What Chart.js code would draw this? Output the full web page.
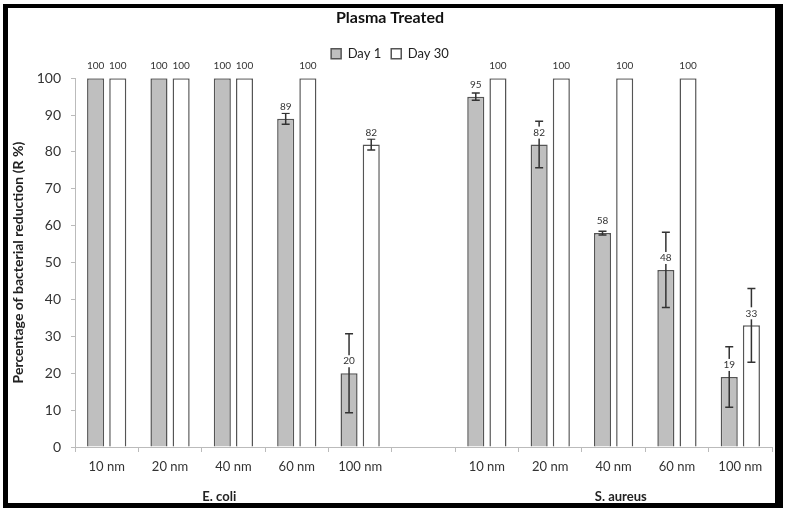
<!DOCTYPE html>
<html>
<head>
<meta charset="utf-8">
<script src="https://cdn.jsdelivr.net/npm/chart.js@4.4.0/dist/chart.umd.min.js"></script>
<style>
  html, body { margin: 0; padding: 0; background: #fff; }
  #wrap { width: 791px; height: 516px; position: relative; }
</style>
</head>
<body>
<div id="wrap"><canvas id="chart" width="791" height="516"></canvas></div>
<script>
// Chart data
const sizes = ['10 nm', '20 nm', '40 nm', '60 nm', '100 nm', '', '10 nm', '20 nm', '40 nm', '60 nm', '100 nm'];
const groups = ['E. coli', 'S. aureus'];
const day1 = [100, 100, 100, 89, 20, null, 95, 82, 58, 48, 19];
const day30 = [100, 100, 100, 100, 82, null, 100, 100, 100, 100, 33];
const day1Err = [0, 0, 0, 1.5, 10.7, null, 1, 6.3, 0.5, 10.2, 8.2];
const day30Err = [0, 0, 0, 0, 1.5, null, 0, 0, 0, 0, 10];
const yTicks = [0, 10, 20, 30, 40, 50, 60, 70, 80, 90, 100];

const FONT = 'Lato, "Open Sans", sans-serif';

// frame around the whole picture
const framePlugin = {
    id: 'frame',
    afterInit(chart) {
        // leave some room between legend and plot
        const lg = chart.legend;
        const fit = lg.fit;
        lg.fit = function () { fit.call(this); this.height += 8; };
    },
    beforeDraw(chart) {
        const c = chart.ctx;
        c.save();
        c.fillStyle = '#fff';
        c.fillRect(0, 0, chart.width, chart.height);
        c.fillStyle = '#000';
        c.fillRect(3, 4, 780, 4);     // top
        c.fillRect(3, 4, 5, 504);     // left
        c.fillRect(775, 4, 8, 504);   // right
        c.fillRect(3, 503, 780, 5);   // bottom
        c.restore();
    }
};

// error bars + value labels above bars
const errorLabelPlugin = {
    id: 'errorLabels',
    afterDatasetsDraw(chart) {
        const c = chart.ctx;
        const y = chart.scales.y;
        const errs = [day1Err, day30Err];
        c.save();
        chart.data.datasets.forEach((ds, di) => {
            const meta = chart.getDatasetMeta(di);
            meta.data.forEach((bar, i) => {
                const v = ds.data[i];
                if (v === null) return;
                const e = errs[di][i];
                if (e) {
                    const top = y.getPixelForValue(v + e);
                    const bot = y.getPixelForValue(v - e);
                    c.strokeStyle = '#333';
                    c.lineWidth = 1.5;
                    c.beginPath();
                    c.moveTo(bar.x, top); c.lineTo(bar.x, bot);
                    c.moveTo(bar.x - 4, top); c.lineTo(bar.x + 4, top);
                    c.moveTo(bar.x - 4, bot); c.lineTo(bar.x + 4, bot);
                    c.stroke();
                }
                const ly = bar.y - 12;
                c.font = '10px ' + FONT;
                const txt = String(Math.round(v));
                const w = c.measureText(txt).width;
                if (e) {
                    c.fillStyle = '#fff';
                    c.fillRect(bar.x - w / 2 - 1, ly - 6, w + 2, 12);
                }
                c.fillStyle = '#333';
                c.textAlign = 'center';
                c.textBaseline = 'middle';
                c.fillText(txt, bar.x, ly);
            });
        });
        // group labels under the axis
        const a = chart.chartArea;
        c.font = 'bold 13px ' + FONT;
        c.fillStyle = '#222';
        c.textAlign = 'center';
        c.textBaseline = 'middle';
        c.fillText(groups[0], a.left + (a.right - a.left) * 0.207, 497);
        c.fillText(groups[1], a.left + (a.right - a.left) * 0.783, 497);
        c.restore();
    }
};

const ctx = document.getElementById('chart').getContext('2d');
const chart = new Chart(ctx, {
    type: 'bar',
    data: {
        labels: sizes,
        datasets: [{
            label: 'Day 1',
            data: day1,
            backgroundColor: '#bfbfbf',
            borderColor: '#555',
            borderWidth: 1.5,
            categoryPercentage: 0.7,
            barPercentage: 0.77
        }, {
            label: 'Day 30',
            data: day30,
            backgroundColor: '#fff',
            borderColor: '#555',
            borderWidth: 1.5,
            categoryPercentage: 0.7,
            barPercentage: 0.77
        }]
    },
    options: {
        responsive: false,
        animation: false,
        layout: { padding: { left: 8, right: 19, top: 8, bottom: 8 } },
        plugins: {
            title: {
                display: true,
                text: 'Plasma Treated',
                color: '#111',
                font: { family: FONT, size: 16, weight: 'bold' },
                padding: { top: 0, bottom: 10 }
            },
            legend: {
                display: true,
                labels: {
                    color: '#222',
                    font: { family: FONT, size: 13 },
                    boxWidth: 10,
                    boxHeight: 10,
                    padding: 10
                }
            },
            tooltip: { enabled: false }
        },
        scales: {
            x: {
                afterFit(scale) { scale.height = 61; },
                grid: { display: true, drawOnChartArea: false, color: '#bbb', tickLength: 5, offset: true },
                border: { color: '#bbb' },
                ticks: { color: '#333', font: { family: FONT, size: 13 }, padding: 7, maxRotation: 0, autoSkip: false }
            },
            y: {
                min: 0,
                max: 100,
                afterFit(scale) { scale.width = 67; },
                afterBuildTicks(scale) { scale.ticks = yTicks.map(v => ({ value: v })); },
                grid: { display: true, drawOnChartArea: false, color: '#bbb', tickLength: 4 },
                border: { color: '#bbb' },
                ticks: { color: '#333', font: { family: FONT, size: 14 }, padding: 10 },
                title: {
                    display: true,
                    text: 'Percentage of bacterial reduction (R %)',
                    color: '#222',
                    font: { family: FONT, size: 14, weight: 'bold' },
                    padding: 2
                }
            }
        }
    },
    plugins: [framePlugin, errorLabelPlugin]
});
</script>
</body>
</html>
